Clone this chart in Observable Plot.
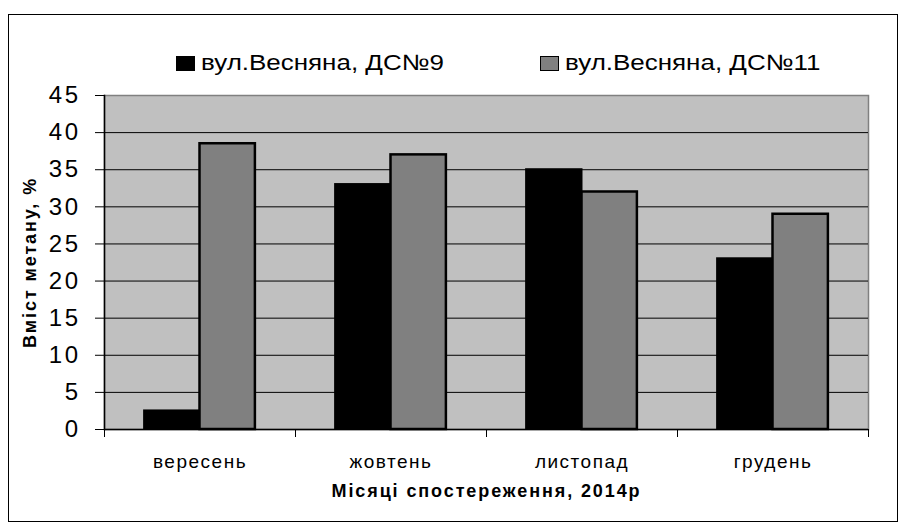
<!DOCTYPE html>
<html>
<head>
<meta charset="utf-8">
<script src="https://cdn.jsdelivr.net/npm/d3@7"></script>
<script src="https://cdn.jsdelivr.net/npm/@observablehq/plot@0.6"></script>
<style>
  body { margin: 0; background: #fff; font-family: "Liberation Sans", Arial, sans-serif; }
  #wrap { position: relative; width: 899px; height: 528px; overflow: hidden; }
  #border { position: absolute; left: 8px; top: 14px; width: 890px; height: 508px; box-sizing: border-box; border: 1.5px solid #000; }
  #legend { position: relative; height: 80px; }
  .item { position: absolute; top: 50px; display: flex; align-items: center; font-size: 22px; color: #000; white-space: nowrap; }
  .sw { width: 19px; height: 15px; box-sizing: border-box; border: 1.5px solid #000; margin-right: 6px; }
  .lt { display: inline-block; transform: scaleX(1.18); transform-origin: left center; }
  svg { display: block; }
</style>
</head>
<body>
<div id="wrap">
  <div id="border"></div>
  <div id="legend"></div>
  <div id="chart"></div>
</div>
<script>
const months = ["вересень", "жовтень", "листопад", "грудень"];
const seriesNames = ["вул.Весняна, ДС№9", "вул.Весняна, ДС№11"];
const seriesColors = ["#000000", "#808080"];
const ds9 = [2.5, 33, 35, 23];
const ds11 = [38.5, 37, 32, 29];
const yTicks = [0, 5, 10, 15, 20, 25, 30, 35, 40, 45];
const yGrid = [5, 10, 15, 20, 25, 30, 35, 40];
const yTitle = "Вміст метану, %";
const xTitle = "Місяці спостереження, 2014р";

// legend
const legend = document.getElementById("legend");
const legendLeft = [176, 540];
seriesNames.forEach((name, i) => {
  const it = document.createElement("div");
  it.className = "item";
  it.style.left = legendLeft[i] + "px";
  const sw = document.createElement("div");
  sw.className = "sw";
  sw.style.background = seriesColors[i];
  it.appendChild(sw);
  const t = document.createElement("span");
  t.className = "lt";
  t.textContent = name;
  it.appendChild(t);
  legend.appendChild(it);
});

const W = 899, H = 448, mL = 104, mR = 31, mT = 15, mB = 99;
const bw = (W - mL - mR) / months.length;
const data9 = months.map((m, i) => ({month: m, value: ds9[i]}));
const data11 = months.map((m, i) => ({month: m, value: ds11[i]}));
const outer = bw * 0.21;
const half = bw / 2;

const plot = Plot.plot({
  width: W, height: H,
  marginLeft: mL, marginRight: mR, marginTop: mT, marginBottom: mB,
  style: {fontFamily: "'Liberation Sans', Arial, sans-serif", color: "#000", background: "transparent"},
  x: {domain: months, padding: 0, axis: null},
  y: {domain: [0, 45], axis: null},
  marks: [
    Plot.frame({fill: "#c0c0c0", stroke: "#808080", strokeWidth: 1.5}),
    Plot.ruleY(yGrid, {stroke: "#000", strokeWidth: 1}),
    Plot.barY(data9, {x: "month", y: "value", fill: seriesColors[0], stroke: "#000", strokeWidth: 2, insetLeft: outer, insetRight: half}),
    Plot.barY(data11, {x: "month", y: "value", fill: seriesColors[1], stroke: "#000", strokeWidth: 2.5, insetLeft: half, insetRight: outer}),
    Plot.ruleY([0], {stroke: "#000", strokeWidth: 1.5}),
    Plot.frame({anchor: "left", stroke: "#000", strokeWidth: 1.5}),
    Plot.axisY({ticks: yTicks, tickSize: 9, label: null, stroke: "#000", text: null}),
    Plot.axisY({ticks: yTicks, tickSize: 0, tickPadding: 24, fontSize: 24, label: null}),
    Plot.axisX({ticks: months, tickSize: 0, tickPadding: 25, fontSize: 19, label: null}),
    Plot.axisX({ticks: months, tickSize: 8, text: null, dx: -half, label: null}),
    Plot.axisX({ticks: months.slice(-1), tickSize: 8, text: null, dx: half, label: null}),
    Plot.text([yTitle], {frameAnchor: "left", textAnchor: "middle", text: d => d, rotate: -90, dx: -74, fontSize: 18, fontWeight: "bold", fill: "#000"}),
    Plot.text([xTitle], {frameAnchor: "bottom", text: d => d, dy: 67, fontSize: 18, fontWeight: "bold", fill: "#000"})
  ]
});
// widen glyph spacing to match the reference's stretched text
const spacingBySize = {"24": "2.5px", "19": "1.5px", "18": "1.9px"};
d3.select(plot).selectAll("g").each(function () {
  const fs = this.getAttribute("font-size");
  if (fs && spacingBySize[fs]) {
    d3.select(this).selectAll("text").style("letter-spacing", spacingBySize[fs]);
  }
});
document.getElementById("chart").appendChild(plot);
</script>
</body>
</html>
